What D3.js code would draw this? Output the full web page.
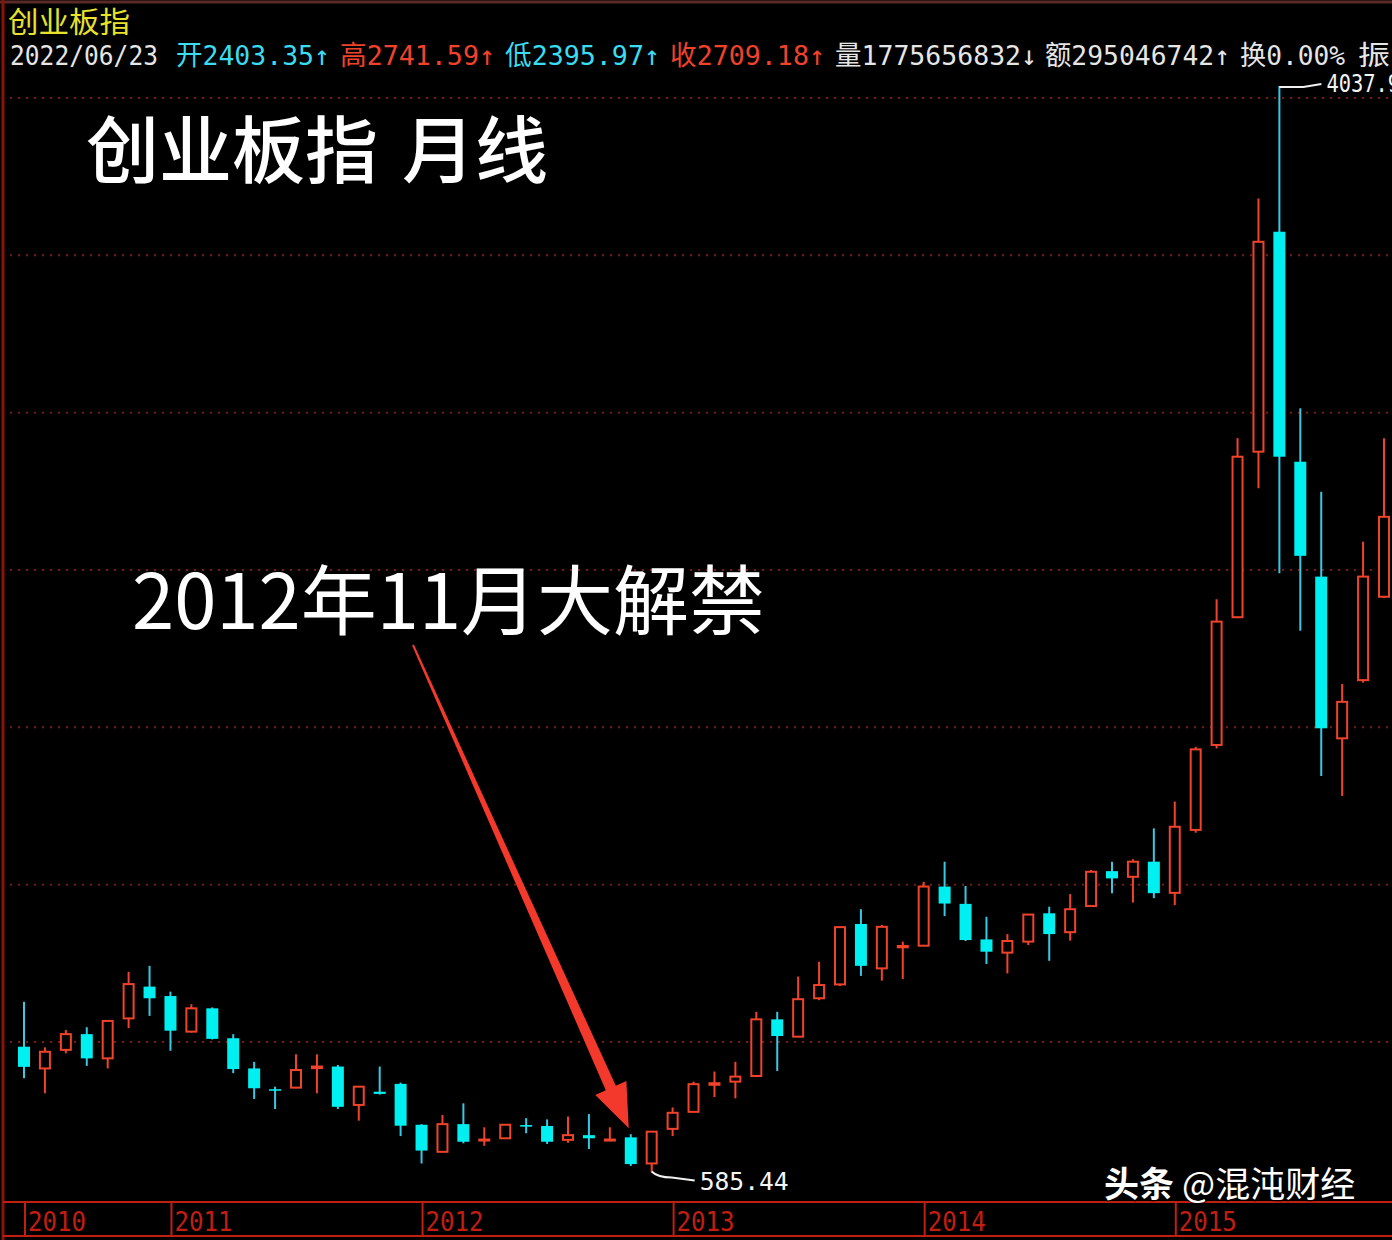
<!DOCTYPE html>
<html>
<head>
<meta charset="utf-8">
<script src="https://cdn.jsdelivr.net/npm/d3@7"></script>
<style>
  body { margin: 0; background: #000; }
  svg { display: block; }
</style>
</head>
<body>
<div id="chart"></div>
<script>
// 创业板指 月线 K线 (2010/06 - 2015/11)
var months = ["2010/06","2010/07","2010/08","2010/09","2010/10","2010/11","2010/12",
  "2011/01","2011/02","2011/03","2011/04","2011/05","2011/06","2011/07","2011/08","2011/09","2011/10","2011/11","2011/12",
  "2012/01","2012/02","2012/03","2012/04","2012/05","2012/06","2012/07","2012/08","2012/09","2012/10","2012/11","2012/12",
  "2013/01","2013/02","2013/03","2013/04","2013/05","2013/06","2013/07","2013/08","2013/09","2013/10","2013/11","2013/12",
  "2014/01","2014/02","2014/03","2014/04","2014/05","2014/06","2014/07","2014/08","2014/09","2014/10","2014/11","2014/12",
  "2015/01","2015/02","2015/03","2015/04","2015/05","2015/06","2015/07","2015/08","2015/09","2015/10","2015/11"];

var openP  = [985, 916, 975, 1025, 948, 1075, 1176,
  1146, 1033, 1107, 1012, 916, 850, 855, 917, 922, 800, 842, 867,
  737, 651, 739, 687, 694, 736, 733, 689, 704, 687, 697, 614,
  724, 778, 864, 874, 892, 1072, 1017, 1139, 1183, 1375, 1234, 1301,
  1306, 1494, 1439, 1326, 1284, 1319, 1409, 1349, 1432, 1543, 1525, 1573,
  1474, 1674, 1944, 2350, 2876, 3575, 2844, 2479, 1965, 2150, 2415];
var highP  = [1128, 983, 1038, 1047, 1070, 1223, 1242,
  1160, 1120, 1110, 1025, 937, 858, 961, 961, 927, 860, 922, 871,
  739, 768, 805, 729, 739, 758, 754, 763, 771, 729, 707, 717,
  792, 874, 906, 937, 1096, 1096, 1208, 1255, 1366, 1422, 1372, 1319,
  1509, 1573, 1496, 1398, 1343, 1407, 1430, 1470, 1547, 1573, 1581, 1679,
  1764, 1938, 2407, 2919, 3681, 4037.96, 3014, 2749, 2138, 2590, 2919];
var lowP   = [885, 837, 964, 924, 916, 1044, 1083,
  972, 1030, 1008, 901, 819, 787, 853, 837, 787, 750, 833, 701,
  614, 649, 678, 670, 693, 710, 676, 680, 660, 685, 606, 585.44,
  701, 777, 825, 821, 890, 908, 1016, 1133, 1178, 1210, 1195, 1200,
  1305, 1400, 1321, 1248, 1218, 1308, 1258, 1322, 1431, 1473, 1443, 1457,
  1435, 1665, 1933, 2347, 2760, 2490, 2307, 1845, 1782, 2142, 2413];
var closeP = [921, 969, 1025, 948, 1067, 1184, 1139,
  1036, 1107, 1010, 914, 853, 845, 911, 922, 794, 858, 835, 734,
  655, 739, 683, 690, 737, 731, 683, 704, 694, 690, 612, 715,
  775, 866, 869, 890, 1072, 1019, 1136, 1181, 1365, 1242, 1366, 1305,
  1494, 1440, 1324, 1287, 1321, 1405, 1343, 1422, 1541, 1520, 1573, 1473,
  1684, 1930, 2336, 2860, 3543, 2860, 2545, 1997, 2081, 2479, 2669];

var gridPrices = [1000, 1500, 2000, 2500, 3000, 3500, 4000];

var svgWidth = 1392;
var svgHeight = 1240;

var upColor = "#f0432c";
var downFill = "#00f0f2";
var downWick = "#38c8e4";
var frameColor = "#8c1208";
var axisRed = "#c21e12";

var svg = d3.select("#chart")
  .append("svg")
  .attr("width", svgWidth)
  .attr("height", svgHeight)
  .style("background", "#000");

var data = months.map(function(m, i) {
  return { month: m, open: openP[i], high: highP[i], low: lowP[i], close: closeP[i] };
});

// scales
var xScale = d3.scaleLinear()
  .domain([0, data.length - 1])
  .range([24, 1384]);

var yScale = d3.scaleLinear()
  .domain([1000, 4000])
  .range([1042, 98]);

// frame
svg.append("line")
  .attr("x1", 0).attr("x2", svgWidth).attr("y1", 2).attr("y2", 2)
  .attr("stroke", "#5a2a28").attr("stroke-width", 3);
svg.append("line")
  .attr("x1", 3).attr("x2", 3).attr("y1", 0).attr("y2", svgHeight)
  .attr("stroke", frameColor).attr("stroke-width", 3);

// dotted grid
svg.append("g").selectAll("line")
  .data(gridPrices)
  .enter()
  .append("line")
  .attr("x1", 10)
  .attr("x2", svgWidth)
  .attr("y1", d => yScale(d))
  .attr("y2", d => yScale(d))
  .attr("stroke", "#7a1c10")
  .attr("stroke-width", 2)
  .attr("stroke-dasharray", "2,6");

// bottom date axis
var axisG = svg.append("g");
axisG.append("line")
  .attr("x1", 3).attr("x2", svgWidth).attr("y1", 1202).attr("y2", 1202)
  .attr("stroke", axisRed).attr("stroke-width", 2);
axisG.append("line")
  .attr("x1", 3).attr("x2", svgWidth).attr("y1", 1236).attr("y2", 1236)
  .attr("stroke", axisRed).attr("stroke-width", 2);

var yearStarts = data.map((d, i) => ({ d: d, i: i }))
  .filter(o => o.i === 0 || o.d.month.slice(5) === "01");

axisG.selectAll(".sep")
  .data(yearStarts)
  .enter()
  .append("line")
  .attr("x1", o => xScale(o.i) + 1)
  .attr("x2", o => xScale(o.i) + 1)
  .attr("y1", 1202).attr("y2", 1236)
  .attr("stroke", axisRed).attr("stroke-width", 2);

axisG.selectAll(".yr")
  .data(yearStarts)
  .enter()
  .append("text")
  .attr("x", o => xScale(o.i) + 4)
  .attr("y", 1231)
  .attr("textLength", 58)
  .attr("lengthAdjust", "spacingAndGlyphs")
  .attr("font-family", "DejaVu Sans Mono, monospace")
  .attr("font-size", "26px")
  .attr("fill", axisRed)
  .text(o => o.d.month.slice(0, 4));

// candles
var candles = svg.append("g").selectAll("g")
  .data(data)
  .enter()
  .append("g");

candles.append("line")
  .attr("x1", (d, i) => xScale(i))
  .attr("x2", (d, i) => xScale(i))
  .attr("y1", d => yScale(d.high))
  .attr("y2", d => yScale(d.low))
  .attr("stroke", d => d.close >= d.open ? upColor : downWick)
  .attr("stroke-width", 2);

candles.append("rect")
  .attr("x", (d, i) => d.close >= d.open ? xScale(i) - 5 : xScale(i) - 6)
  .attr("width", d => d.close >= d.open ? 10 : 12)
  .attr("y", d => yScale(Math.max(d.open, d.close)))
  .attr("height", d => Math.max(1, yScale(Math.min(d.open, d.close)) - yScale(Math.max(d.open, d.close))))
  .attr("fill", d => d.close >= d.open ? "#000" : downFill)
  .attr("stroke", d => d.close >= d.open ? upColor : "none")
  .attr("stroke-width", 2);

// max / min labels
var maxI = d3.maxIndex(data, d => d.high);
var minI = d3.minIndex(data, d => d.low);

var mx = xScale(maxI), my = yScale(data[maxI].high);
svg.append("path")
  .attr("d", `M${mx},${my + 1} L${mx + 24},${my + 1} L${mx + 42},${my - 2}`)
  .attr("fill", "none").attr("stroke", "#f0f0f0").attr("stroke-width", 2);
svg.append("text")
  .attr("x", mx + 47).attr("y", my + 6)
  .attr("textLength", 86).attr("lengthAdjust", "spacingAndGlyphs")
  .attr("font-family", "DejaVu Sans Mono, monospace")
  .attr("font-size", "25px").attr("fill", "#f4f4f4")
  .text(d3.format(".2f")(data[maxI].high));

var nx = xScale(minI), ny = yScale(data[minI].low);
svg.append("path")
  .attr("d", `M${nx},${ny - 1} Q${nx + 6},${ny + 5} ${nx + 20},${ny + 5} L${nx + 43},${ny + 8}`)
  .attr("fill", "none").attr("stroke", "#f0f0f0").attr("stroke-width", 2);
svg.append("text")
  .attr("x", nx + 48).attr("y", ny + 18)
  .attr("textLength", 89).attr("lengthAdjust", "spacingAndGlyphs")
  .attr("font-family", "DejaVu Sans Mono, monospace")
  .attr("font-size", "25px").attr("fill", "#f4f4f4")
  .text(d3.format(".2f")(data[minI].low));

// header
svg.append("text")
  .attr("x", 8).attr("y", 33)
  .attr("textLength", 122).attr("lengthAdjust", "spacingAndGlyphs")
  .attr("font-family", "Noto Sans CJK SC")
  .attr("font-size", "29px").attr("fill", "#e8e22c")
  .text("创业板指");

var header = [
  { t: "2022/06/23", x: 10, w: 148, c: "#e6e6e6" },
  { t: "开2403.35↑", x: 176, w: 154, c: "#3cdcf0" },
  { t: "高2741.59↑", x: 340, w: 155, c: "#f0432c" },
  { t: "低2395.97↑", x: 505, w: 155, c: "#3cdcf0" },
  { t: "收2709.18↑", x: 670, w: 155, c: "#f0432c" },
  { t: "量1775656832↓", x: 835, w: 202, c: "#e6e6e6" },
  { t: "额295046742↑", x: 1045, w: 185, c: "#e6e6e6" },
  { t: "换0.00%", x: 1240, w: 105, c: "#e6e6e6" },
  { t: "振", x: 1358, w: 32, c: "#e6e6e6" }
];
svg.append("g").selectAll("text")
  .data(header)
  .enter()
  .append("text")
  .attr("x", d => d.x).attr("y", 65)
  .attr("textLength", d => d.w).attr("lengthAdjust", "spacingAndGlyphs")
  .attr("font-family", "DejaVu Sans Mono, Noto Sans CJK SC, monospace")
  .attr("font-size", "27px")
  .attr("fill", d => d.c)
  .text(d => d.t);

// big titles
var title = svg.append("text")
  .attr("x", 86).attr("y", 177)
  .attr("font-family", "Noto Sans CJK SC")
  .attr("font-size", "73px").attr("font-weight", 500)
  .attr("fill", "#ffffff");
title.append("tspan").text("创业板指");
title.append("tspan").attr("dx", 24).text("月线");

svg.append("text")
  .attr("x", 132).attr("y", 629)
  .attr("font-family", "Noto Sans CJK SC")
  .attr("font-size", "76px")
  .attr("fill", "#ffffff")
  .text("2012年11月大解禁");

// arrow to the 2012/11 candle
var ti = months.indexOf("2012/11");
var tip = [xScale(ti) - 2, yScale(data[ti].high) - 6];
var tail = [413, 645];
var dx = tip[0] - tail[0], dy = tip[1] - tail[1];
var len = Math.sqrt(dx * dx + dy * dy);
var ux = dx / len, uy = dy / len, nxv = -uy, nyv = ux;
var headLen = 44, headW = 17, shaftW = 5.5, tailW = 1;
var bx = tip[0] - ux * headLen, by = tip[1] - uy * headLen;
var arrowPts = [
  [tail[0] + nxv * tailW, tail[1] + nyv * tailW],
  [bx + nxv * shaftW, by + nyv * shaftW],
  [bx + nxv * headW, by + nyv * headW],
  tip,
  [bx - nxv * headW, by - nyv * headW],
  [bx - nxv * shaftW, by - nyv * shaftW],
  [tail[0] - nxv * tailW, tail[1] - nyv * tailW]
];
svg.append("path")
  .attr("d", d3.line()(arrowPts) + "Z")
  .attr("fill", "#f2392c");

// watermark
var wm = svg.append("text")
  .attr("x", 1104).attr("y", 1197)
  .attr("font-family", "Noto Sans CJK SC")
  .attr("font-size", "35px")
  .attr("fill", "#ffffff")
  .style("paint-order", "stroke")
  .attr("stroke", "rgba(0,0,0,0.5)").attr("stroke-width", 3);
wm.append("tspan").attr("font-weight", 700).text("头条");
wm.append("tspan").attr("dx", 8).text("@混沌财经");
</script>
</body>
</html>
